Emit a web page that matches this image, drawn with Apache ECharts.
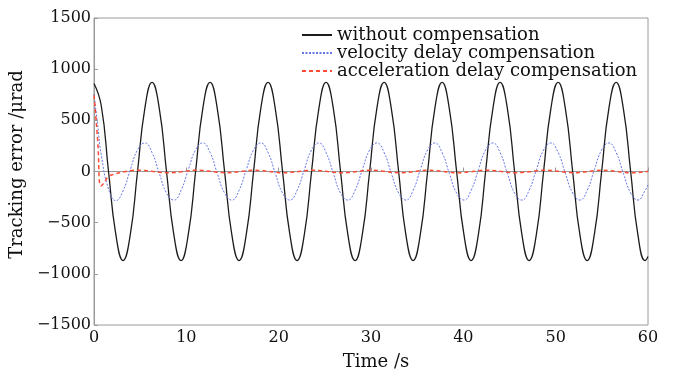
<!DOCTYPE html>
<html>
<head>
<meta charset="utf-8">
<script src="https://cdn.jsdelivr.net/npm/echarts@6/dist/echarts.min.js"></script>
<style>html,body{margin:0;padding:0;background:#fff;}#c{width:673px;height:378px;}</style>
</head>
<body>
<div id="c"></div>
<script>
const seriesNames = ['without compensation', 'velocity delay compensation', 'acceleration delay compensation'];
const xTicks = [0, 10, 20, 30, 40, 50, 60];
const yTicks = [-1500, -1000, -500, 0, 500, 1000, 1500];

const timeGrid = [0, 0.79, 1.57, 2.36, 3.14, 3.93, 4.71, 5.50, 6.28, 7.07, 7.85, 8.64, 9.42, 10.21, 11.00, 11.78,
  12.57, 13.35, 14.14, 14.92, 15.71, 16.49, 17.28, 18.06, 18.85, 19.63, 20.42, 21.21, 21.99, 22.78, 23.56, 24.35,
  25.13, 25.92, 26.70, 27.49, 28.27, 29.06, 29.85, 30.63, 31.42, 32.20, 32.99, 33.77, 34.56, 35.34, 36.13, 36.91,
  37.70, 38.48, 39.27, 40.06, 40.84, 41.63, 42.41, 43.20, 43.98, 44.77, 45.55, 46.34, 47.12, 47.91, 48.69, 49.48,
  50.27, 51.05, 51.84, 52.62, 53.41, 54.19, 54.98, 55.76, 56.55, 57.33, 58.12, 58.90, 59.69, 60];

const blackValues = [
  860, 640, 0, -615, -870, -615, 0, 615,
  870, 615, 0, -615, -870, -615, 0, 615,
  870, 615, 0, -615, -870, -615, 0, 615,
  870, 615, 0, -615, -870, -615, 0, 615,
  870, 615, 0, -615, -870, -615, 0, 615,
  870, 615, 0, -615, -870, -615, 0, 615,
  870, 615, 0, -615, -870, -615, 0, 615,
  870, 615, 0, -615, -870, -615, 0, 615,
  870, 615, 0, -615, -870, -615, 0, 615,
  870, 615, 0, -615, -870,
  -830];

const blueTime = [0, 0.4].concat(timeGrid.slice(1));
const blueValues = [760, 450,
  160, -170, -285, -190, 18, 210, 279,
  185, -18, -210, -279, -185, 18, 210, 279,
  185, -18, -210, -279, -185, 18, 210, 279,
  185, -18, -210, -279, -185, 18, 210, 279,
  185, -18, -210, -279, -185, 18, 210, 279,
  185, -18, -210, -279, -185, 18, 210, 279,
  185, -18, -210, -279, -185, 18, 210, 279,
  185, -18, -210, -279, -185, 18, 210, 279,
  185, -18, -210, -279, -185, 18, 210, 279,
  185, -18, -210, -279, -185,
  -130];

const redTime = [0, 0.4, 0.75, 1.1].concat(timeGrid.slice(2));
const redValues = [745, 300, -142, -110,
  -50, -22, -5, 7, 12, 10,
  2, -7, -12, -10, -2, 7, 12, 10,
  2, -7, -12, -10, -2, 7, 12, 10,
  2, -7, -12, -10, -2, 7, 12, 10,
  2, -7, -12, -10, -2, 7, 12, 10,
  2, -7, -12, -10, -2, 7, 12, 10,
  2, -7, -12, -10, -2, 7, 12, 10,
  2, -7, -12, -10, -2, 7, 12, 10,
  2, -7, -12, -10, -2, 7, 12, 10,
  2, -7, -12, -10, -2,
  2];

function pairs(t, v) { return t.map((x, i) => [x, v[i]]); }

const FONT = 'DejaVu Serif';
const chart = echarts.init(document.getElementById('c'), null, {renderer: 'canvas'});
chart.setOption({
  animation: false,
  backgroundColor: '#fff',
  grid: {left: 92.5, right: 25, top: 18, bottom: 53, show: true, borderColor: '#9a9a9a', borderWidth: 1, backgroundColor: 'transparent'},
  legend: {
    orient: 'vertical', left: 301, top: 26, padding: 0, itemWidth: 30, itemHeight: 1, itemGap: 0,
    data: seriesNames,
    textStyle: {fontFamily: FONT, fontSize: 18, color: '#111', lineHeight: 17.5}
  },
  xAxis: {
    type: 'value', min: xTicks[0], max: xTicks[xTicks.length - 1], interval: 10,
    name: 'Time /s', nameLocation: 'middle', nameGap: 28,
    nameTextStyle: {fontFamily: FONT, fontSize: 18, color: '#111', padding: [0, 0, 0, 10]},
    axisLine: {lineStyle: {color: '#9a9a9a', width: 1}},
    axisTick: {inside: true, length: 4, lineStyle: {color: '#9a9a9a'}},
    axisLabel: {fontFamily: FONT, fontSize: 16, color: '#111', margin: 5},
    splitLine: {show: false}
  },
  yAxis: {
    type: 'value', min: yTicks[0], max: yTicks[yTicks.length - 1], interval: 500,
    name: 'Tracking error /μrad', nameLocation: 'middle', nameGap: 58,
    nameTextStyle: {fontFamily: FONT, fontSize: 18, color: '#111', padding: [0, 0, 0, 14]},
    axisLine: {lineStyle: {color: '#9a9a9a', width: 1}},
    axisTick: {inside: true, length: 4, lineStyle: {color: '#9a9a9a'}},
    axisLabel: {fontFamily: FONT, fontSize: 16, color: '#111', margin: 3,
      formatter: v => String(v).replace('-', '\u2212')},
    splitLine: {show: false}
  },
  series: [
    {name: seriesNames[0], type: 'line', data: pairs(timeGrid, blackValues), smooth: 0.5, symbol: 'none',
      lineStyle: {color: '#1c1c1c', width: 1.3}, itemStyle: {color: '#1c1c1c'}, z: 2},
    {name: seriesNames[1], type: 'line', data: pairs(blueTime, blueValues), smooth: 0.5, symbol: 'none',
      lineStyle: {color: '#6677e6', width: 1, type: [2, 1.5]}, itemStyle: {color: '#6677e6'}, z: 3},
    {name: seriesNames[2], type: 'line', data: pairs(redTime, redValues), smooth: 0.5, symbol: 'none',
      lineStyle: {color: '#ff4b33', width: 1.5, type: [4, 3]}, itemStyle: {color: '#ff4b33'}, z: 4}
  ]
});
</script>
</body>
</html>
